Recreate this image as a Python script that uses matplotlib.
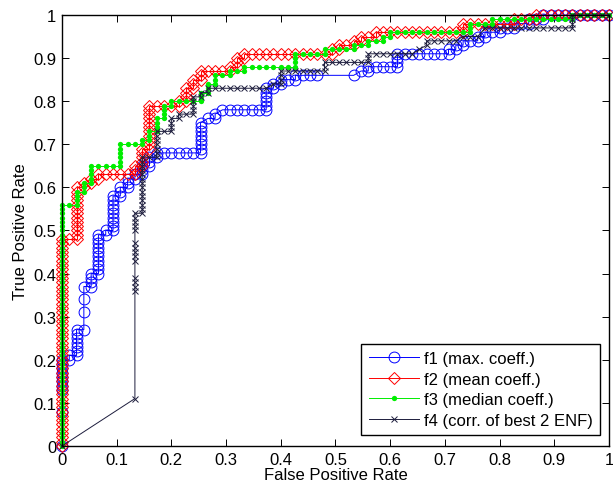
import numpy as np
import matplotlib
matplotlib.use('Agg')
import matplotlib.pyplot as plt

plt.rcParams['font.family'] = ['Liberation Sans', 'DejaVu Sans']

# ROC curves read off the picture as runs of (negatives, positives[, points])
# a run along one axis gets one point per unit step, a mixed run is a tie
f1_runs = [(0, 8, 1), (0, 5, 1), (0, 7), (1, 0), (0, 1), (1, 0), (0, 6), (1, 0),
           (0, 4, 1), (0, 6, 2), (1, 0), (0, 3), (1, 0), (0, 9), (1, 0), (0, 1),
           (1, 0), (0, 8), (1, 0), (0, 2), (1, 0), (0, 2), (1, 0), (0, 1), (1, 0),
           (0, 2), (1, 0), (0, 2), (1, 0), (0, 1), (6, 0), (0, 7), (1, 1), (1, 0),
           (0, 1), (1, 1), (6, 0), (0, 5), (1, 0), (0, 1), (1, 0), (0, 1), (2, 0),
           (0, 1), (3, 0), (5, 0, 1), (1, 1), (1, 0), (0, 1), (4, 0), (0, 3),
           (5, 0), (2, 0), (0, 1), (1, 0), (0, 1), (1, 0), (0, 1), (2, 0), (0, 1),
           (1, 0), (0, 1), (2, 0), (0, 1), (2, 0), (0, 1), (2, 0), (0, 1), (2, 0),
           (0, 1), (9, 0)]
f2_runs = [(0, 48), (2, 0), (0, 12), (1, 0), (0, 1), (1, 0), (0, 1), (1, 0), (0, 1),
           (4, 0), (1, 0), (0, 2), (1, 0), (0, 4), (1, 0), (0, 10), (4, 0), (0, 1),
           (1, 0), (0, 3), (1, 0), (0, 2), (1, 0), (0, 2), (4, 0), (0, 1), (1, 0),
           (0, 2), (1, 0), (0, 1), (12, 0), (0, 1), (1, 0), (0, 1), (2, 0), (0, 1),
           (1, 0), (0, 1), (2, 0), (0, 1), (12, 0), (0, 2), (1, 0), (6, 0), (0, 1),
           (3, 0), (0, 1), (10, 0)]
f3_runs = [(0, 56), (2, 0), (0, 3), (1, 0), (0, 2), (1, 0), (0, 4), (4, 0), (0, 5),
           (3, 0), (0, 1), (1, 0), (0, 2), (1, 0), (0, 3), (1, 0), (0, 3), (1, 0),
           (0, 1), (4, 0), (0, 2), (1, 0), (0, 2), (1, 0), (0, 2), (2, 0), (0, 1),
           (2, 0), (0, 1), (7, 0), (0, 3), (4, 0), (0, 1), (4, 0), (0, 1), (2, 0),
           (0, 1), (2, 0), (0, 1), (1, 0), (0, 1), (11, 0), (0, 2), (3, 0), (0, 1),
           (11, 0), (0, 1), (5, 0)]
f4_runs = [(10, 11, 1), (0, 25, 1), (0, 3), (0, 4, 1), (0, 1), (0, 2), (0, 1),
           (0, 3, 1), (0, 4), (1, 0), (0, 13), (2, 0), (0, 6), (2, 0), (0, 3),
           (1, 0), (0, 1), (2, 0), (0, 4), (1, 0), (0, 1), (1, 0), (0, 1), (8, 0),
           (1, 1), (1, 0), (0, 3), (6, 0), (0, 2), (6, 0), (0, 2), (6, 0), (1, 1),
           (1, 1), (0, 1), (4, 0), (1, 1), (2, 0), (1, 2, 1), (12, 0), (0, 3), (5, 0)]

labels = ['f1 (max. coeff.)', 'f2 (mean coeff.)', 'f3 (median coeff.)',
          'f4 (corr. of best 2 ENF)']
tick_vals = [0, 0.1, 0.2, 0.3, 0.4, 0.5, 0.6, 0.7, 0.8, 0.9, 1]
tick_text = ['0', '0.1', '0.2', '0.3', '0.4', '0.5', '0.6', '0.7', '0.8', '0.9', '1']


def build(runs):
    xs, ys = [0.0], [0.0]
    for r in runs:
        dx, dy = r[0], r[1]
        if len(r) > 2:
            n = r[2]
        elif dx == 0 or dy == 0:
            n = max(dx, dy)
        else:
            n = 1
        x0, y0 = xs[-1], ys[-1]
        for k in range(1, n + 1):
            xs.append(x0 + dx * k / n)
            ys.append(y0 + dy * k / n)
    xs, ys = np.array(xs), np.array(ys)
    return xs / xs[-1], ys / ys[-1]


fig = plt.figure(figsize=(6.13, 4.89), dpi=100)
ax = fig.add_axes([0.1011, 0.0859, 0.8923, 0.8814])

styles = [
    dict(color='#0000ff', marker='o', ms=7.8, mfc='none', mew=0.7),
    dict(color='#ff0000', marker='D', ms=6.0, mfc='none', mew=0.7),
    dict(color='#00ee00', marker='o', ms=3.8, mfc='#00ee00', mec='#00ee00', mew=0),
    dict(color='#1c1c3c', marker='x', ms=3.8, mew=0.7),
]
for runs, lab, st in zip([f1_runs, f2_runs, f3_runs, f4_runs], labels, styles):
    fx, fy = build(runs)
    ax.plot(fx, fy, lw=0.7, label=lab, clip_on=False, **st)

ax.set_xlim(0, 1)
ax.set_ylim(0, 1)
ax.set_xticks(tick_vals)
ax.set_xticklabels(tick_text)
ax.set_yticks(tick_vals)
ax.set_yticklabels(tick_text)
ax.tick_params(direction='in', top=True, right=True, length=5, width=0.7,
               labelsize=12, pad=4)
for s in ax.spines.values():
    s.set_linewidth(1.0)
ax.set_xlabel('False Positive Rate', fontsize=12, labelpad=0)
ax.set_ylabel('True Positive Rate', fontsize=12, labelpad=4)

leg = ax.legend(loc='lower right', bbox_to_anchor=(0.9835, 0.025), fontsize=12,
                fancybox=False, framealpha=1, edgecolor='black',
                handlelength=3.0, handletextpad=0.3, labelspacing=0.33,
                borderpad=0.45, borderaxespad=0)
leg.get_frame().set_linewidth(1.0)

plt.savefig('out.png', dpi=100)
